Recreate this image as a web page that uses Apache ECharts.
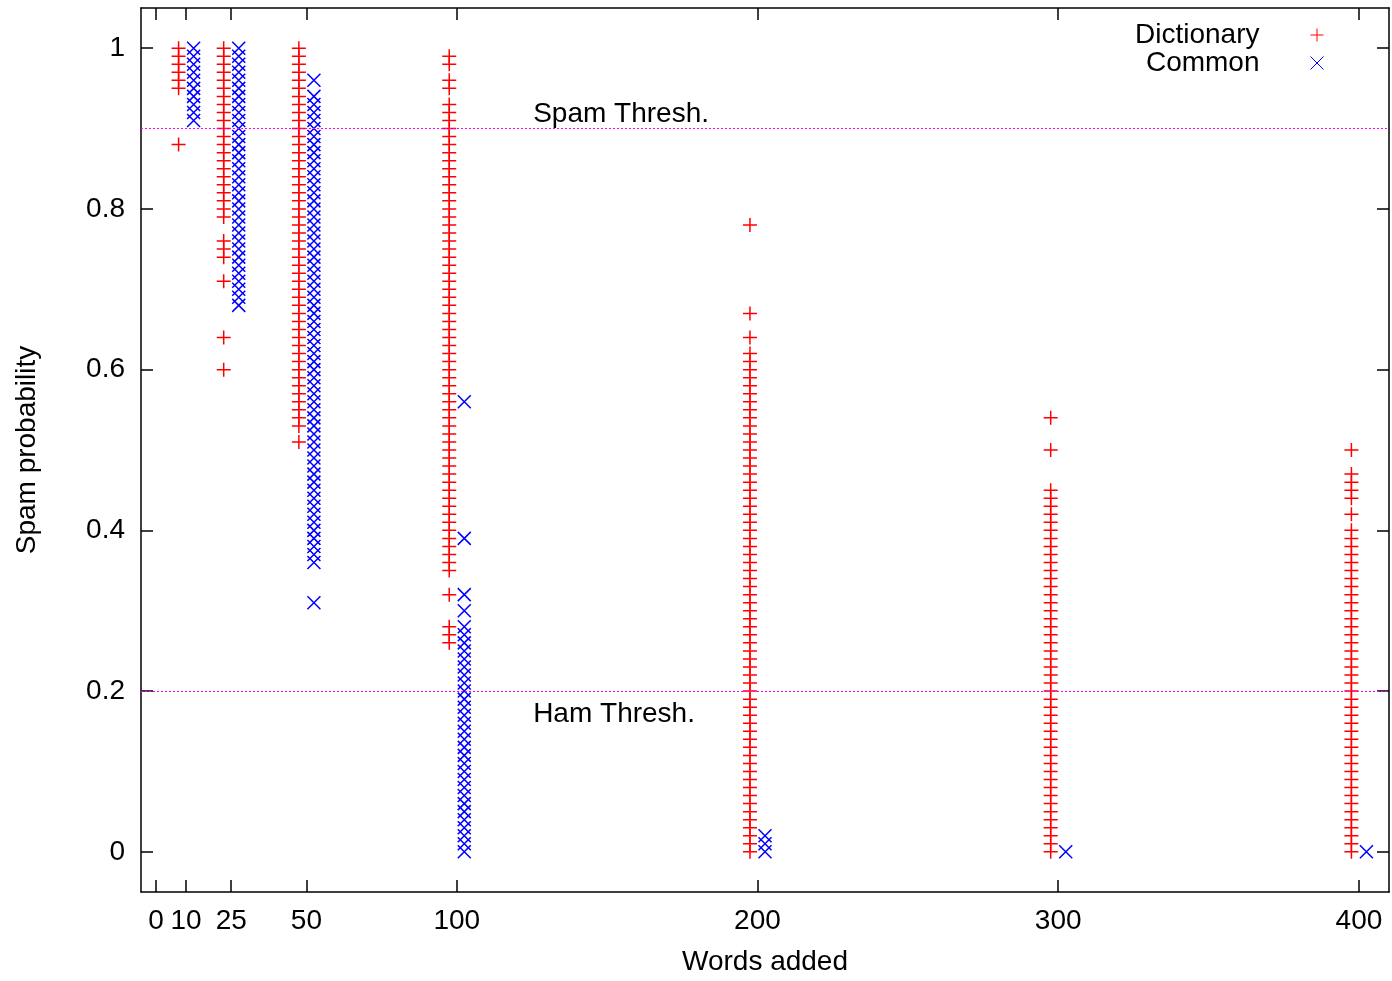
<!DOCTYPE html>
<html>
<head>
<meta charset="utf-8">
<script src="https://cdn.jsdelivr.net/npm/echarts@6/dist/echarts.min.js"></script>
<style>html,body{margin:0;padding:0;background:#fff;overflow:hidden}#c{position:absolute;left:0;top:0;width:1392px;height:981px}</style>
</head>
<body>
<div id="c"></div>
<script>
// Words-added groups (x positions of the columns)
const wordCounts = [10, 25, 50, 100, 200, 300, 400];
const xTickValues = [0, 10, 25, 50, 100, 200, 300, 400];
const yTickValues = [0, 0.2, 0.4, 0.6, 0.8, 1];

// Dictionary series: spam probability per message, per words-added group
const dict10 = [1.00,0.99,0.98,0.97,0.96,0.95,0.88];
const dict25 = [1.00,0.99,0.98,0.97,0.96,0.95,0.94,0.93,0.92,0.91,0.90,0.89,0.88,0.87,0.86,0.85,0.84,0.83,0.82,0.81,0.80,0.79,0.76,0.75,0.74,0.71,0.64,0.60];
const dict50 = [1.00,0.99,0.98,0.97,0.96,0.95,0.94,0.93,0.92,0.91,0.90,0.89,0.88,0.87,0.86,0.85,0.84,0.83,0.82,0.81,0.80,0.79,0.78,0.77,0.76,0.75,0.74,0.73,0.72,0.71,0.70,0.69,0.68,0.67,0.66,0.65,0.64,0.63,0.62,0.61,0.60,0.59,0.58,0.57,0.56,0.55,0.54,0.53,0.51];
const dict100 = [0.99,0.98,0.96,0.95,0.93,0.92,0.91,0.90,0.89,0.88,0.87,0.86,0.85,0.84,0.83,0.82,0.81,0.80,0.79,0.78,0.77,0.76,0.75,0.74,0.73,0.72,0.71,0.70,0.69,0.68,0.67,0.66,0.65,0.64,0.63,0.62,0.61,0.60,0.59,0.58,0.57,0.56,0.55,0.54,0.53,0.52,0.51,0.50,0.49,0.48,0.47,0.46,0.45,0.44,0.43,0.42,0.41,0.40,0.39,0.38,0.37,0.36,0.35,0.32,0.28,0.27,0.26];
const dict200 = [0.78,0.67,0.64,0.62,0.61,0.60,0.59,0.58,0.57,0.56,0.55,0.54,0.53,0.52,0.51,0.50,0.49,0.48,0.47,0.46,0.45,0.44,0.43,0.42,0.41,0.40,0.39,0.38,0.37,0.36,0.35,0.34,0.33,0.32,0.31,0.30,0.29,0.28,0.27,0.26,0.25,0.24,0.23,0.22,0.21,0.20,0.19,0.18,0.17,0.16,0.15,0.14,0.13,0.12,0.11,0.10,0.09,0.08,0.07,0.06,0.05,0.04,0.03,0.02,0.01,0.00];
const dict300 = [0.54,0.50,0.45,0.44,0.43,0.42,0.41,0.40,0.39,0.38,0.37,0.36,0.35,0.34,0.33,0.32,0.31,0.30,0.29,0.28,0.27,0.26,0.25,0.24,0.23,0.22,0.21,0.20,0.19,0.18,0.17,0.16,0.15,0.14,0.13,0.12,0.11,0.10,0.09,0.08,0.07,0.06,0.05,0.04,0.03,0.02,0.01,0.00];
const dict400 = [0.50,0.47,0.46,0.45,0.44,0.42,0.40,0.39,0.38,0.37,0.36,0.35,0.34,0.33,0.32,0.31,0.30,0.29,0.28,0.27,0.26,0.25,0.24,0.23,0.22,0.21,0.20,0.19,0.18,0.17,0.16,0.15,0.14,0.13,0.12,0.11,0.10,0.09,0.08,0.07,0.06,0.05,0.04,0.03,0.02,0.01,0.00];

// Common series
const common10 = [1.00,0.99,0.98,0.97,0.96,0.95,0.94,0.93,0.92,0.91];
const common25 = [1.00,0.99,0.98,0.97,0.96,0.95,0.94,0.93,0.92,0.91,0.90,0.89,0.88,0.87,0.86,0.85,0.84,0.83,0.82,0.81,0.80,0.79,0.78,0.77,0.76,0.75,0.74,0.73,0.72,0.71,0.70,0.69,0.68];
const common50 = [0.96,0.94,0.93,0.92,0.91,0.90,0.89,0.88,0.87,0.86,0.85,0.84,0.83,0.82,0.81,0.80,0.79,0.78,0.77,0.76,0.75,0.74,0.73,0.72,0.71,0.70,0.69,0.68,0.67,0.66,0.65,0.64,0.63,0.62,0.61,0.60,0.59,0.58,0.57,0.56,0.55,0.54,0.53,0.52,0.51,0.50,0.49,0.48,0.47,0.46,0.45,0.44,0.43,0.42,0.41,0.40,0.39,0.38,0.37,0.36,0.31];
const common100 = [0.56,0.39,0.32,0.30,0.28,0.27,0.26,0.25,0.24,0.23,0.22,0.21,0.20,0.19,0.18,0.17,0.16,0.15,0.14,0.13,0.12,0.11,0.10,0.09,0.08,0.07,0.06,0.05,0.04,0.03,0.02,0.01,0.00];
const common200 = [0.02,0.01,0.00];
const common300 = [0.00];
const common400 = [0.00];

const thresholds = [0.9, 0.2];
const thresholdLabels = ['Spam Thresh.', 'Ham Thresh.'];

const dictGroups = [dict10, dict25, dict50, dict100, dict200, dict300, dict400];
const commonGroups = [common10, common25, common50, common100, common200, common300, common400];

const dictShift = -2.5, commonShift = 2.5;
function build(groups, shift) {
  const out = [];
  groups.forEach((vals, i) => vals.forEach(v => out.push([wordCounts[i] + shift, v])));
  return out;
}

const FONT = "'Liberation Sans', Arial, sans-serif";
const FS = 28;
const plusPath = 'path://M0,7L14,7M7,0L7,14';
const crossPath = 'path://M0,0L14,14M14,0L0,14';
const THR_COLOR = '#ff00ff';

const chart = echarts.init(document.getElementById('c'), null, {renderer: 'canvas', width: 1392, height: 981});
const axisLineStyle = {color: '#000', width: 1.5};
const tickStyle = {color: '#000', width: 1.5};
const option = {
  backgroundColor: '#fff',
  animation: false,
  textStyle: {fontFamily: FONT},
  grid: {left: 141, right: 3, top: 8, bottom: 84, containLabel: false},
  legend: {
    orient: 'vertical', align: 'right', right: 68, top: 21, padding: 0,
    itemWidth: 13, itemHeight: 13, itemGap: 0,
    textStyle: {fontSize: FS, fontFamily: FONT, color: '#000', padding: [0, 46, 0, 0]},
    data: [
      {name: 'Dictionary', icon: plusPath, itemStyle: {color: '#ff0000', borderColor: '#ff0000', borderWidth: 1}},
      {name: 'Common', icon: crossPath, itemStyle: {color: '#0000ff', borderColor: '#0000ff', borderWidth: 1}}
    ]
  },
  xAxis: [{
    type: 'value', position: 'bottom', min: -5, max: 410,
    name: 'Words added', nameLocation: 'middle', nameGap: 56,
    nameTextStyle: {fontSize: FS, fontFamily: FONT, color: '#000'},
    axisLine: {show: true, onZero: false, lineStyle: axisLineStyle},
    axisTick: {show: true, inside: true, length: 12, customValues: xTickValues, lineStyle: tickStyle},
    axisLabel: {show: true, customValues: xTickValues, fontSize: FS, fontFamily: FONT, color: '#000', margin: 15},
    splitLine: {show: false}
  }, {
    type: 'value', position: 'top', min: -5, max: 410,
    axisLine: {show: true, onZero: false, lineStyle: axisLineStyle},
    axisTick: {show: true, inside: true, length: 12, customValues: xTickValues, lineStyle: tickStyle},
    axisLabel: {show: false},
    splitLine: {show: false}
  }],
  yAxis: [{
    type: 'value', position: 'left', min: -0.05, max: 1.05,
    name: 'Spam probability', nameLocation: 'middle', nameGap: 100,
    nameTextStyle: {fontSize: FS, fontFamily: FONT, color: '#000'},
    axisLine: {show: true, onZero: false, lineStyle: axisLineStyle},
    axisTick: {show: true, inside: true, length: 12, customValues: yTickValues, lineStyle: tickStyle},
    axisLabel: {show: true, customValues: yTickValues, fontSize: FS, fontFamily: FONT, color: '#000', margin: 16},
    splitLine: {show: false}
  }, {
    type: 'value', position: 'right', min: -0.05, max: 1.05,
    axisLine: {show: true, onZero: false, lineStyle: axisLineStyle},
    axisTick: {show: true, inside: true, length: 12, customValues: yTickValues, lineStyle: tickStyle},
    axisLabel: {show: false},
    splitLine: {show: false}
  }],
  series: [{
    name: 'Dictionary', type: 'scatter', xAxisIndex: 0, yAxisIndex: 0,
    symbol: plusPath, symbolSize: 14,
    itemStyle: {color: '#ff0000', borderColor: '#ff0000', borderWidth: 1.5, opacity: 1},
    data: build(dictGroups, dictShift),
    markLine: {
      silent: true, symbol: 'none', label: {show: false},
      lineStyle: {color: THR_COLOR, type: [2, 2], width: 1.2, opacity: 1},
      data: thresholds.map(t => ({yAxis: t, lineStyle: {color: THR_COLOR, type: [2, 2], width: 1.2}}))
    },
    markPoint: {
      silent: true, symbol: 'circle', symbolSize: 0,
      label: {show: true, position: 'right', distance: 0, fontSize: FS, fontFamily: FONT, color: '#000',
        formatter: p => p.name},
      data: [
        {name: thresholdLabels[0], coord: [125.4, 0.918]},
        {name: thresholdLabels[1], coord: [125.4, 0.171]}
      ]
    },
    z: 2
  }, {
    name: 'Common', type: 'scatter', xAxisIndex: 0, yAxisIndex: 0,
    symbol: crossPath, symbolSize: 13,
    itemStyle: {color: '#0000ff', borderColor: '#0000ff', borderWidth: 1.5, opacity: 1},
    data: build(commonGroups, commonShift),
    z: 3
  }]
};
chart.setOption(option);
</script>
</body>
</html>
